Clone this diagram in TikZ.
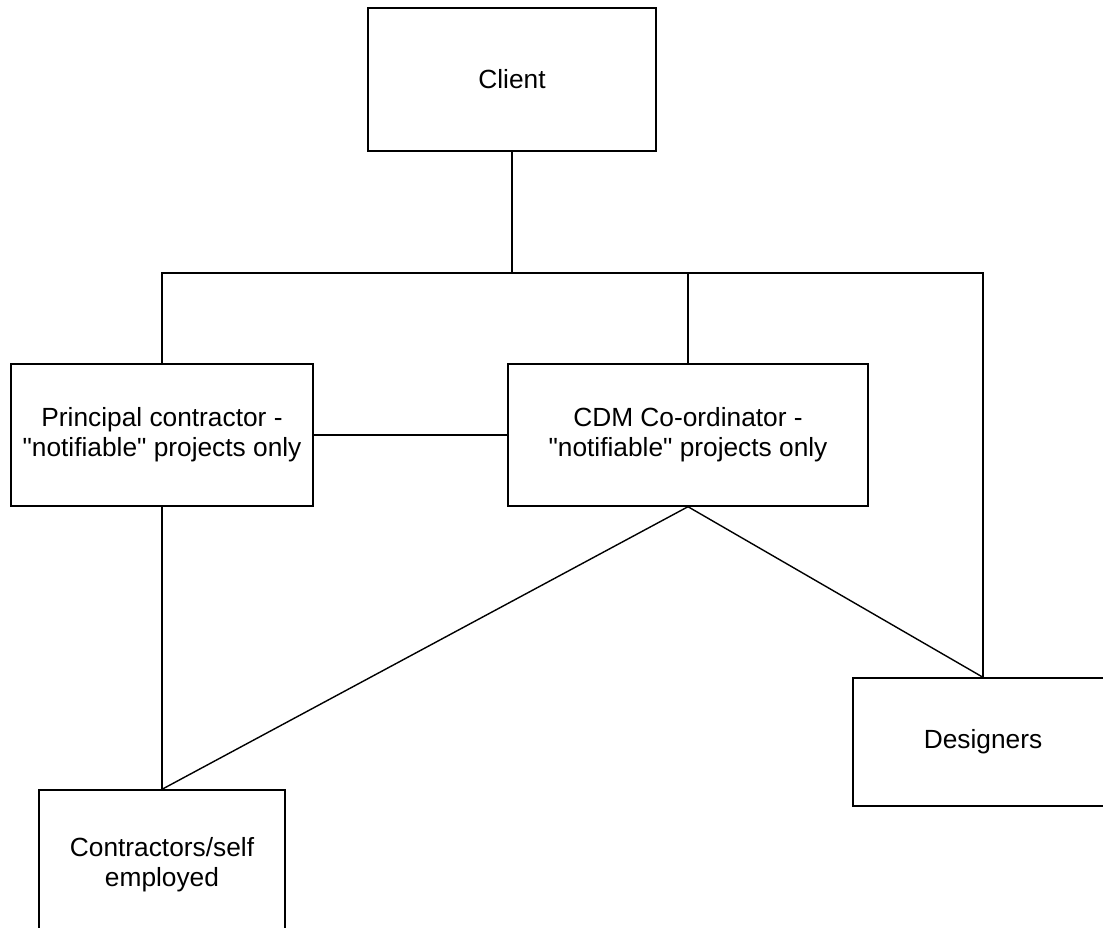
\documentclass[tikz,border=0pt]{standalone}
\usepackage{fontspec}
\setmainfont{Liberation Sans}[Ligatures=TeXOff]
\begin{document}
\begin{tikzpicture}[x=1pt,y=-1pt,
  box/.style={draw=black,line width=1.4pt,fill=white,inner sep=0pt,align=center,
    font=\fontsize{26.3}{30}\selectfont},
  link/.style={draw=black,line width=1.4pt}]
\useasboundingbox (0,0) rectangle (1103,928);
\clip (0,0) rectangle (1103,928);

% boxes
\node[box,minimum width=288pt,minimum height=143pt] (client) at (512,79.5) {Client};
\node[box,minimum width=302pt,minimum height=142pt] (pc) at (162,435)
  {Principal contractor -\\"notifiable" projects only};
\node[box,minimum width=360pt,minimum height=142pt] (cdm) at (688,435)
  {CDM Co-ordinator -\\"notifiable" projects only};
\node[box,minimum width=260pt,minimum height=128pt] (des) at (983,742) {Designers};
\node[box,minimum width=246pt,minimum height=150pt] (con) at (162,865)
  {Contractors/self\\employed};

% distribution bus below the client
\coordinate (busL) at (162,273);
\coordinate (busR) at (983,273);

% connectors
\draw[link] (client.south) -- (client.south |- busL);
\draw[link] (pc.north) |- (busR) -- (des.north);
\draw[link] (cdm.north) -- (cdm.north |- busL);
\draw[link] (pc.east) -- (cdm.west);
\draw[link] (pc.south) -- (con.north);
\draw[link] (con.north) -- (cdm.south) -- (des.north);
\end{tikzpicture}
\end{document}
